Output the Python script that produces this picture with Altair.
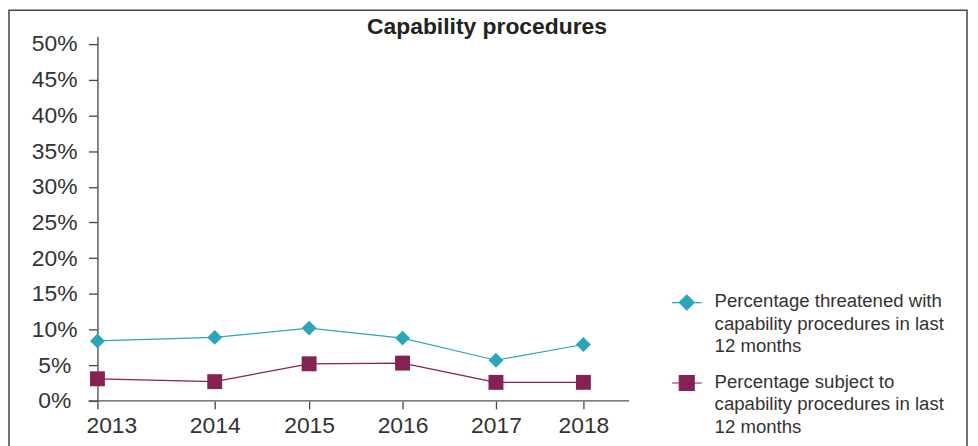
import altair as alt
import pandas as pd

years = [2013, 2014, 2015, 2016, 2017, 2018]
threatened = [8.4, 8.9, 10.2, 8.8, 5.7, 7.9]
subject = [3.1, 2.7, 5.2, 5.3, 2.6, 2.6]
series = [
    "Percentage threatened with\ncapability procedures in last\n12 months",
    "Percentage subject to\ncapability procedures in last\n12 months",
]
colors = ["#2ba6b8", "#862153"]
y_ticks = [0, 5, 10, 15, 20, 25, 30, 35, 40, 45, 50]
title_text = "Capability procedures"

rows = []
for i, yr in enumerate(years):
    rows.append({"year": yr, "value": threatened[i], "series": series[0]})
    rows.append({"year": yr, "value": subject[i], "series": series[1]})
df = pd.DataFrame(rows)

W, H = 535, 367
FONT = "Liberation Sans"

xscale = alt.Scale(domain=years, range=[0, 118, 213, 307, 401, 489])
yscale = alt.Scale(domain=[0, 51.1], nice=False)

x_enc = alt.X(
    "year:Q", scale=xscale,
    axis=alt.Axis(
        values=years, format="d", title=None, domain=False, grid=False,
        tickSize=8, tickColor="#444", tickWidth=1.3, labelFlush=False, labelOverlap=False,
        labelFontSize=23, labelFont=FONT, labelColor="#333", labelPadding=6,
        labelOffset={"condition": {"test": "datum.value == 2013", "value": 14}, "value": 0},
    ),
)
y_enc = alt.Y(
    "value:Q", scale=yscale,
    axis=alt.Axis(
        values=y_ticks, labelExpr="datum.value + '%'", title=None, grid=False,
        domainColor="#444", domainWidth=1.3, tickColor="#444", tickWidth=1.3, tickSize=9,
        labelFontSize=23, labelFont=FONT, labelColor="#333", labelAlign="center",
        labelPadding=34.5, labelBaseline="middle", labelOverlap=False, labelFlush=False,
    ),
)
color_scale = alt.Scale(domain=series, range=colors)

base = alt.Chart(df)

lines = base.mark_line(strokeWidth=1.2).encode(
    x=x_enc, y=y_enc,
    color=alt.Color("series:N", scale=color_scale, legend=None),
)
diamonds = base.transform_filter(alt.datum.series == series[0]).mark_point(
    shape="diamond", filled=True, size=225, opacity=1
).encode(x=x_enc, y=y_enc, color=alt.Color("series:N", scale=color_scale, legend=None))
squares = base.transform_filter(alt.datum.series == series[1]).mark_point(
    shape="square", filled=True, size=225, opacity=1
).encode(x=x_enc, y=y_enc, color=alt.Color("series:N", scale=color_scale, legend=None))

one = alt.Chart(pd.DataFrame({"a": [0]}))
xaxis_line = one.mark_rule(color="#555", strokeWidth=1.3).encode(
    x=alt.value(-9), x2=alt.value(W), y=alt.value(H)
)
frame = one.mark_rect(fill="transparent", stroke="#444", strokeWidth=1.5).encode(
    x=alt.value(-89), x2=alt.value(875), y=alt.value(-26), y2=alt.value(H + 60)
)

main = alt.layer(frame, xaxis_line, lines, diamonds, squares)

# legend drawn from the series list
leg_df = pd.DataFrame({"series": series})
leg_y = alt.Y("series:N", scale=alt.Scale(domain=series, range=[268, 349], padding=0), axis=None)
leg_sym = alt.Chart(leg_df).mark_point(filled=True, size=225, opacity=1, strokeWidth=1.2).encode(
    x=alt.value(593), y=leg_y,
    fill=alt.Fill("series:N", scale=color_scale, legend=None),
    stroke=alt.Stroke("series:N", scale=color_scale, legend=None),
    shape=alt.Shape(
        "series:N",
        scale=alt.Scale(domain=series, range=[
            "M-2,0H2M-1,0L0,-1L1,0L0,1Z",
            "M-2,0H2M-1,-1H1V1H-1Z",
        ]),
        legend=None,
    ),
)
leg_txt = alt.Chart(leg_df).mark_text(
    align="left", baseline="alphabetic", dy=5, lineBreak="\n", lineHeight=22.5,
    font=FONT, fontSize=18.7, color="#333",
).encode(x=alt.value(621), y=leg_y, text="series:N")
legend = alt.layer(leg_sym, leg_txt)

chart = alt.layer(main, legend).resolve_scale(y="independent").properties(
    width=W, height=H,
    title=alt.Title(title_text, font=FONT, fontSize=23, fontWeight="bold", color="#222",
                    anchor="middle", dx=124.5, dy=34),
    autosize=alt.AutoSizeParams(type="none"),
    padding={"left": 90, "top": 27, "right": 343, "bottom": 44},
).configure_view(stroke=None)

chart.save("out.html", embed_options={"renderer": "svg", "actions": False})
